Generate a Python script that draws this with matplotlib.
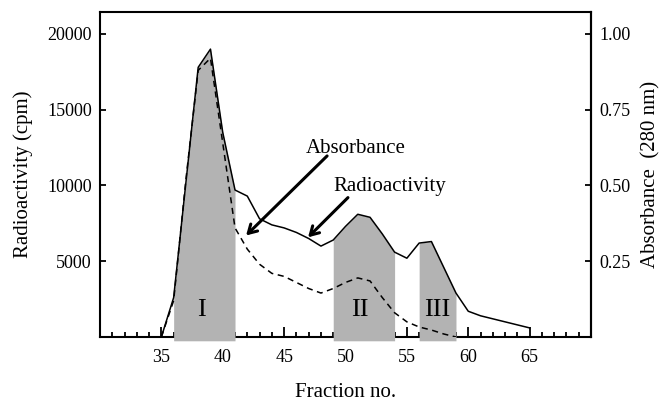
import numpy as np
import matplotlib
matplotlib.use("Agg")
import matplotlib.pyplot as plt
from matplotlib.ticker import MultipleLocator, FixedLocator

plt.rcParams["font.family"] = ["Liberation Serif", "DejaVu Serif"]

# Fraktionsdaten
fractions = np.arange(35, 66)
radioactivity = [0, 2600, 10200, 17800, 19000, 13500, 9700, 9300, 7800, 7400,
                 7200, 6900, 6500, 6000, 6400, 7300, 8100, 7900, 6800, 5600,
                 5200, 6200, 6300, 4600, 2900, 1700, 1400, 1200, 1000, 800, 600]
abs_fractions = np.arange(35, 60)
absorbance = [0, 0.12, 0.52, 0.88, 0.92, 0.64, 0.36, 0.29, 0.24, 0.21,
              0.20, 0.18, 0.16, 0.145, 0.16, 0.18, 0.195, 0.185, 0.13, 0.08,
              0.05, 0.033, 0.023, 0.01, 0.0]
peak_names = ["I", "II", "III"]
peak_start = [36, 49, 56]
peak_end = [41, 54, 59]
peak_label_x = [38.3, 51.2, 57.5]

radioactivity = np.array(radioactivity, dtype=float)

fig = plt.figure(figsize=(6.72, 4.07), dpi=100)
ax = fig.add_axes([100 / 672, 1 - 337 / 407, 491 / 672, 325 / 407])
ax2 = ax.twinx()

ymax = 21450
ax.set_xlim(30, 70)
ax.set_ylim(0, ymax)
ax2.set_ylim(0, ymax / 20000)

# Flaechen unter den Peaks
for name, a, b, lx in zip(peak_names, peak_start, peak_end, peak_label_x):
    m = (fractions >= a) & (fractions <= b)
    ax.fill_between(fractions[m], -250, radioactivity[m], color="#b3b3b3",
                    lw=0, zorder=3, clip_on=False)
    ax.text(lx, 1800, name, ha="center", va="center", fontsize=19, zorder=5)

ax.plot(fractions, radioactivity, color="black", lw=1.1, zorder=4)
ax2.plot(abs_fractions, absorbance, color="black", lw=1.1, ls=(0, (4, 3)))

# Pfeile + Beschriftung
ax.text(50.8, 12450, "Absorbance", ha="center", va="center", fontsize=15)
ax.annotate("", xy=(41.9, 6700), xytext=(48.5, 11950),
            arrowprops=dict(arrowstyle="->,head_length=0.6,head_width=0.35",
                            lw=2.2, color="black", shrinkA=0, shrinkB=0))
ax.text(53.6, 9950, "Radioactivity", ha="center", va="center", fontsize=15)
ax.annotate("", xy=(46.95, 6580), xytext=(50.2, 9200),
            arrowprops=dict(arrowstyle="->,head_length=0.6,head_width=0.35",
                            lw=2.2, color="black", shrinkA=0, shrinkB=0))

# Achsen
for sp in ax.spines.values():
    sp.set_linewidth(1.5)
for name in ["left", "top", "bottom"]:
    ax2.spines[name].set_visible(False)
ax2.spines["right"].set_linewidth(1.5)

ax.xaxis.set_major_locator(FixedLocator(range(35, 70, 5)))
ax.xaxis.set_minor_locator(MultipleLocator(1))
ax.yaxis.set_major_locator(FixedLocator([5000, 10000, 15000, 20000]))
ax2.yaxis.set_major_locator(FixedLocator([0.25, 0.5, 0.75, 1.0]))
ax2.set_yticklabels(["0.25", "0.50", "0.75", "1.00"])

ax.tick_params(axis="x", which="major", direction="in", length=7, width=1.3,
               pad=9, labelsize=13, top=False)
ax.tick_params(axis="x", which="minor", direction="in", length=3.5, width=1.3,
               top=False)
ax.tick_params(axis="y", direction="in", length=4.5, width=1.3, pad=6,
               labelsize=13, right=False)
ax2.tick_params(axis="y", direction="in", length=4.5, width=1.3, pad=6,
                labelsize=13)

ax.set_xlabel("Fraction no.", fontsize=15, labelpad=12)
ax.set_ylabel("Radioactivity (cpm)", fontsize=15, labelpad=10)
ax2.set_ylabel("Absorbance  (280 nm)", fontsize=15, labelpad=8)

fig.savefig("out.png", dpi=100)
